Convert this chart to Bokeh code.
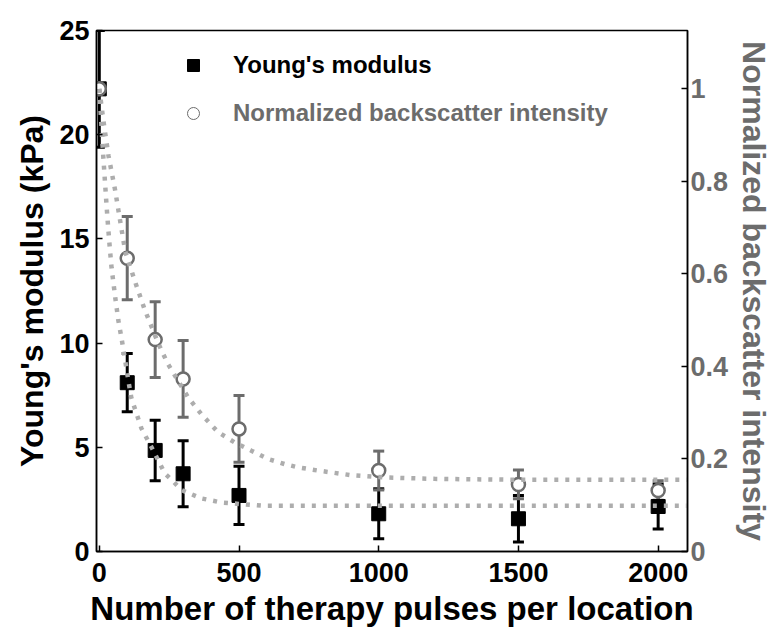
from bokeh.plotting import figure
from bokeh.models import (Range1d, LinearAxis, ColumnDataSource, Whisker, TeeHead,
                          Legend, LegendItem, FixedTicker)
from bokeh.embed import file_html
from bokeh.resources import INLINE

# ---- data ----
pulses = [0, 100, 200, 300, 500, 1000, 1500, 2000]
youngs_kpa = [22.2, 8.1, 4.85, 3.73, 2.69, 1.81, 1.57, 2.16]
youngs_err = [2.8, 1.4, 1.45, 1.58, 1.4, 1.2, 1.12, 1.08]
backscatter = [1.0, 0.634, 0.458, 0.373, 0.265, 0.175, 0.145, 0.132]
backscatter_err = [0.0, 0.09, 0.082, 0.083, 0.072, 0.042, 0.031, 0.021]

fit_x_youngs = [0, 14, 20, 26, 32, 38, 44, 56, 68, 80, 91, 104, 115, 151, 187, 210,
                234, 258, 294, 365, 437, 580, 800, 1200, 2105]
fit_youngs = [22.2, 19.0, 17.8, 16.6, 15.5, 14.5, 13.6, 12.3, 11.1, 10.2, 9.3, 8.2, 7.35,
              5.9, 5.0, 4.4, 3.75, 3.45, 2.95, 2.55, 2.35, 2.2, 2.2, 2.2, 2.2]

fit_x_back = [0, 15, 33, 57, 69, 93, 127, 163, 205, 223, 246, 306, 318, 365, 425, 484,
              544, 604, 663, 711, 782, 901, 1020, 1200, 1500, 2105]
fit_back = [1.0, 0.93, 0.855, 0.78, 0.735, 0.648, 0.585, 0.522, 0.459, 0.434, 0.405,
            0.345, 0.333, 0.297, 0.258, 0.236, 0.218, 0.200, 0.189, 0.182, 0.175, 0.165,
            0.160, 0.157, 0.155, 0.155]

x_ticks = [0, 500, 1000, 1500, 2000]
left_ticks = [0, 5, 10, 15, 20, 25]
right_ticks = [0, 0.2, 0.4, 0.6, 0.8, 1]
right_tick_labels = ["0", "0.2", "0.4", "0.6", "0.8", "1"]

x_label = "Number of therapy pulses per location"
left_label = "Young's modulus (kPa)"
right_label = "Normalized backscatter intensity"
legend_youngs = "Young's modulus"
legend_back = "Normalized backscatter intensity"

FONT = "Liberation Sans"
GRAY = "#6c6c6c"
FIT = "#adadad"

p = figure(width=779, height=638, x_range=Range1d(-10, 2105), y_range=Range1d(0, 25),
           output_backend="svg", toolbar_location=None,
           min_border_left=96, min_border_right=92, min_border_top=30, min_border_bottom=87)
p.extra_y_ranges = {"right": Range1d(0, 25 / 22.2)}
p.xgrid.visible = False
p.ygrid.visible = False
p.outline_line_color = "black"
p.outline_line_width = 1.5
p.background_fill_color = "white"

right_axis = LinearAxis(y_range_name="right")
p.add_layout(right_axis, "right")

for ax in [p.xaxis[0], p.yaxis[0], right_axis]:
    ax.axis_line_color = "black"
    ax.axis_line_width = 1.5
    ax.major_tick_in = 6
    ax.major_tick_out = 0
    ax.major_tick_line_color = "black"
    ax.major_tick_line_width = 1.5
    ax.minor_tick_line_color = None
    ax.major_label_text_font = FONT
    ax.major_label_text_font_style = "bold"
    ax.major_label_text_font_size = "27px"
    ax.axis_label_text_font = FONT
    ax.axis_label_text_font_style = "bold"
    ax.axis_label_text_font_size = "32px"

p.xaxis[0].ticker = FixedTicker(ticks=x_ticks)
p.xaxis[0].axis_label = x_label
p.xaxis[0].axis_label_text_font_size = "33px"
p.xaxis[0].major_label_standoff = 11
p.xaxis[0].axis_label_standoff = 5
p.xaxis[0].major_label_text_color = "black"
p.xaxis[0].axis_label_text_color = "black"

p.yaxis[0].ticker = FixedTicker(ticks=left_ticks)
p.yaxis[0].axis_label = left_label
p.yaxis[0].major_label_standoff = 7
p.yaxis[0].axis_label_standoff = 6
p.yaxis[0].major_label_text_color = "black"
p.yaxis[0].axis_label_text_color = "black"

right_axis.ticker = FixedTicker(ticks=right_ticks)
right_axis.major_label_overrides = {t: lab for t, lab in zip(right_ticks, right_tick_labels)}
right_axis.axis_label = right_label
right_axis.major_label_standoff = 3
right_axis.axis_label_standoff = 5
right_axis.major_label_text_color = GRAY
right_axis.axis_label_text_color = GRAY

# ---- error bars ----
ysrc = ColumnDataSource(dict(
    x=pulses,
    lower=[v - e for v, e in zip(youngs_kpa, youngs_err)],
    upper=[v + e for v, e in zip(youngs_kpa, youngs_err)]))
wy = Whisker(base="x", lower="lower", upper="upper", source=ysrc,
             line_color="black", line_width=3, level="underlay",
             upper_head=TeeHead(size=11, line_width=3, line_color="black"),
             lower_head=TeeHead(size=11, line_width=3, line_color="black"))
p.add_layout(wy)

bk = [(x, v, e) for x, v, e in zip(pulses, backscatter, backscatter_err) if e > 0]
bsrc = ColumnDataSource(dict(
    x=[b[0] for b in bk],
    lower=[b[1] - b[2] for b in bk],
    upper=[b[1] + b[2] for b in bk]))
wb = Whisker(base="x", lower="lower", upper="upper", source=bsrc, y_range_name="right",
             line_color=GRAY, line_width=3, level="underlay",
             upper_head=TeeHead(size=11, line_width=3, line_color=GRAY),
             lower_head=TeeHead(size=11, line_width=3, line_color=GRAY))
p.add_layout(wb)

# ---- markers ----
p.scatter(pulses, youngs_kpa, marker="square", size=14, fill_color="black",
          line_color="black")
p.scatter(pulses, backscatter, marker="circle", size=13, fill_color="white",
          line_color=GRAY, line_width=2.5, y_range_name="right")

# ---- fit curves ----
p.line(fit_x_youngs, fit_youngs, line_color=FIT, line_width=4.5, line_dash="4 7")
p.line(fit_x_back, fit_back, line_color=FIT, line_width=4.5, line_dash="4 7",
       y_range_name="right")

# ---- legends (proxy renderers, not drawn inside the plot) ----
nan = float("nan")
sq_proxy = p.scatter(x=[nan], y=[nan], marker="square", size=12, fill_color="black",
                     line_color="black")
ci_proxy = p.scatter(x=[nan], y=[nan], marker="circle", size=10, fill_color="white",
                     line_color=GRAY, line_width=1)


def make_legend(label, rend, color, loc):
    return Legend(items=[LegendItem(label=label, renderers=[rend])], location=loc,
                  glyph_width=30, glyph_height=30, label_height=30, label_standoff=25,
                  padding=0, margin=0, border_line_color=None, background_fill_alpha=0,
                  label_text_font=FONT, label_text_font_style="bold",
                  label_text_font_size="24px", label_text_color=color)


p.add_layout(make_legend(legend_youngs, sq_proxy, "black", (82, 471)))
p.add_layout(make_legend(legend_back, ci_proxy, GRAY, (82, 423)))

open("out.html", "w").write(file_html(p, INLINE))
